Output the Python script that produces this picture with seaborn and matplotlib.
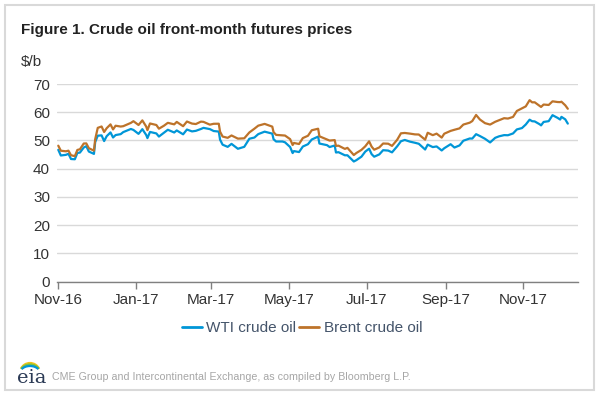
import matplotlib
matplotlib.use("Agg")
import matplotlib.pyplot as plt
import matplotlib.dates as mdates
from matplotlib.patches import Rectangle, Arc
import pandas as pd
import seaborn as sns

dates = [
    "2016-11-01", "2016-11-03", "2016-11-07", "2016-11-09", "2016-11-11", "2016-11-14",
    "2016-11-16", "2016-11-18", "2016-11-21", "2016-11-23", "2016-11-25", "2016-11-29",
    "2016-11-30", "2016-12-02", "2016-12-05", "2016-12-07", "2016-12-09", "2016-12-12",
    "2016-12-14", "2016-12-16", "2016-12-20", "2016-12-22", "2016-12-28", "2016-12-30",
    "2017-01-03", "2017-01-06", "2017-01-09", "2017-01-10", "2017-01-12", "2017-01-17",
    "2017-01-19", "2017-01-23", "2017-01-26", "2017-01-31", "2017-02-02", "2017-02-07",
    "2017-02-10", "2017-02-14", "2017-02-17", "2017-02-21", "2017-02-23", "2017-02-28",
    "2017-03-03", "2017-03-07", "2017-03-08", "2017-03-10", "2017-03-14", "2017-03-17",
    "2017-03-22", "2017-03-27", "2017-03-31", "2017-04-04", "2017-04-07", "2017-04-12",
    "2017-04-18", "2017-04-19", "2017-04-21", "2017-04-26", "2017-04-28", "2017-05-02",
    "2017-05-04", "2017-05-05", "2017-05-09", "2017-05-12", "2017-05-16", "2017-05-19",
    "2017-05-24", "2017-05-25", "2017-05-31", "2017-06-02", "2017-06-06", "2017-06-07",
    "2017-06-09", "2017-06-14", "2017-06-16", "2017-06-21", "2017-06-23", "2017-06-27",
    "2017-06-30", "2017-07-03", "2017-07-05", "2017-07-07", "2017-07-11", "2017-07-14",
    "2017-07-18", "2017-07-21", "2017-07-25", "2017-07-28", "2017-07-31", "2017-08-04",
    "2017-08-08", "2017-08-11", "2017-08-16", "2017-08-18", "2017-08-22", "2017-08-25",
    "2017-08-29", "2017-08-31", "2017-09-05", "2017-09-08", "2017-09-12", "2017-09-15",
    "2017-09-20", "2017-09-22", "2017-09-25", "2017-09-28", "2017-10-02", "2017-10-06",
    "2017-10-10", "2017-10-13", "2017-10-17", "2017-10-20", "2017-10-24", "2017-10-27",
    "2017-10-31", "2017-11-03", "2017-11-06", "2017-11-08", "2017-11-10", "2017-11-14",
    "2017-11-15", "2017-11-17", "2017-11-21", "2017-11-24", "2017-11-28", "2017-11-30",
    "2017-12-01", "2017-12-04", "2017-12-06",
]

wti = [
    46.67, 44.66, 44.89, 45.27, 43.41, 43.32,
    45.57, 45.69, 47.49, 47.96, 46.06, 45.23,
    49.44, 51.68, 51.79, 49.77, 51.50, 52.83,
    51.04, 51.90, 52.23, 52.95, 54.06, 53.72,
    52.33, 53.99, 51.96, 50.82, 53.01, 52.48,
    51.37, 52.75, 53.78, 52.81, 53.54, 52.17,
    53.86, 53.20, 53.40, 54.06, 54.45, 54.01,
    53.33, 53.14, 50.28, 48.49, 47.72, 48.78,
    47.04, 47.73, 50.60, 51.03, 52.24, 53.11,
    52.41, 50.44, 49.62, 49.62, 49.33, 47.66,
    45.52, 46.22, 45.88, 47.84, 48.66, 50.33,
    51.36, 48.90, 48.32, 47.66, 48.19, 45.72,
    45.83, 44.73, 44.74, 42.53, 43.01, 44.24,
    46.04, 47.07, 45.13, 44.23, 45.04, 46.54,
    46.40, 45.77, 47.89, 49.71, 50.17, 49.58,
    49.17, 48.82, 46.78, 48.51, 47.64, 47.87,
    46.44, 47.23, 48.66, 47.48, 48.23, 49.89,
    50.69, 50.66, 52.22, 51.56, 50.58, 49.29,
    50.92, 51.45, 51.88, 51.84, 52.47, 53.90,
    54.38, 55.64, 57.35, 56.81, 56.74, 55.70,
    55.33, 56.55, 56.83, 58.95, 57.99, 57.40,
    58.36, 57.47, 55.96,
]

brent = [
    48.14, 46.35, 46.15, 46.36, 44.75, 44.43,
    46.63, 46.86, 48.90, 48.95, 47.24, 46.38,
    50.47, 54.46, 54.94, 53.00, 54.33, 55.69,
    53.90, 55.21, 54.92, 55.05, 56.22, 56.82,
    55.47, 57.10, 54.94, 53.64, 56.01, 55.47,
    54.16, 55.23, 56.24, 55.70, 56.56, 55.05,
    56.70, 55.97, 55.81, 56.66, 56.58, 55.59,
    55.90, 55.92, 53.11, 51.37, 50.92, 51.76,
    50.64, 50.75, 52.83, 54.17, 55.24, 55.86,
    54.89, 52.93, 51.96, 51.82, 51.73, 50.46,
    48.38, 49.10, 48.73, 50.84, 51.65, 53.61,
    54.15, 51.46, 50.31, 49.95, 50.12, 48.06,
    48.15, 47.00, 47.37, 44.82, 45.54, 46.65,
    47.92, 49.68, 47.79, 46.71, 47.52, 48.91,
    48.84, 48.06, 50.20, 52.52, 52.65, 52.42,
    52.14, 52.10, 50.27, 52.72, 51.87, 52.41,
    51.00, 52.38, 53.38, 53.78, 54.27, 55.62,
    56.29, 56.86, 59.02, 57.41, 56.12, 55.62,
    56.61, 57.17, 57.88, 57.75, 58.33, 60.44,
    61.37, 62.07, 64.27, 63.49, 63.52, 62.21,
    61.87, 62.72, 62.57, 63.86, 63.61, 63.57,
    63.73, 62.45, 61.22,
]

series_names = ["WTI crude oil", "Brent crude oil"]
series_colors = ["#0096d7", "#bd732a"]
y_ticks = [0, 10, 20, 30, 40, 50, 60, 70]
x_ticks = ["2016-11-01", "2017-01-01", "2017-03-01", "2017-05-01",
           "2017-07-01", "2017-09-01", "2017-11-01"]

df = pd.concat([
    pd.DataFrame({"date": pd.to_datetime(dates), "price": wti, "series": series_names[0]}),
    pd.DataFrame({"date": pd.to_datetime(dates), "price": brent, "series": series_names[1]}),
], ignore_index=True)

sns.set_theme(style="white")
plt.rcParams["font.family"] = ["Liberation Sans", "DejaVu Sans"]

W, H = 600, 393
fig = plt.figure(figsize=(W / 100, H / 100), dpi=100)
fig.patch.set_facecolor("white")

ax = fig.add_axes([57 / W, 1 - 281.5 / H, (578 - 57) / W, (281.5 - 84) / H])
sns.lineplot(data=df, x="date", y="price", hue="series",
             palette=dict(zip(series_names, series_colors)),
             linewidth=1.6, ax=ax, legend=False)

ax.set_xlim(pd.Timestamp("2016-10-31"), pd.Timestamp("2017-12-14"))
ax.set_ylim(0, 70)
ax.set_yticks(y_ticks)
ax.set_xticks(pd.to_datetime(x_ticks))
ax.xaxis.set_major_formatter(mdates.DateFormatter("%b-%y"))
ax.set_xlabel("")
ax.set_ylabel("")
ax.yaxis.grid(True, color="#d9d9d9", linewidth=1)
ax.xaxis.grid(False)
for s in ["top", "right", "left"]:
    ax.spines[s].set_visible(False)
ax.spines["bottom"].set_color("#808080")
ax.spines["bottom"].set_linewidth(1)
ax.tick_params(axis="x", direction="out", length=5, width=1, color="#808080",
               labelsize=11, labelcolor="#333333", pad=3, bottom=True)
ax.tick_params(axis="y", length=0, labelsize=11, labelcolor="#333333", pad=5)

handles = [plt.Line2D([], [], color=c, linewidth=2) for c in series_colors]
leg = fig.legend(handles, series_names, loc="center", bbox_to_anchor=(302 / W, 1 - 328 / H),
                 ncol=2, frameon=False, fontsize=11, handlelength=1.3, handletextpad=0.3,
                 columnspacing=0.2)
for t in leg.get_texts():
    t.set_color("#44546a")

fig.text(21 / W, 1 - 30 / H, "Figure 1. Crude oil front-month futures prices",
         fontsize=11, fontweight="bold", color="#222222", va="center", ha="left")
fig.text(21 / W, 1 - 62 / H, r"\$/b", fontsize=11, color="#333333", va="center", ha="left")
fig.text(52 / W, 1 - 377 / H,
         "CME Group and Intercontinental Exchange, as compiled by Bloomberg L.P.",
         fontsize=7.7, color="#a6a6a6", va="center", ha="left")

# eia logo
lax = fig.add_axes([10 / W, 1 - 392 / H, 36 / W, 34 / H])
lax.set_xlim(0, 36)
lax.set_ylim(0, 34)
lax.axis("off")
lax.text(7.5, 9, "eia", fontsize=14, family="DejaVu Serif", color="#2b3a55",
         va="baseline", ha="left")
for (h, col) in [(20, "#f2c319"), (17, "#7cc242"), (14, "#0096d7")]:
    lax.add_patch(Arc((20, 19), 20, h, theta1=25, theta2=155,
                      color=col, linewidth=1.6))

fig.patches.append(Rectangle((5 / W, 1 - 390 / H), (594 - 5) / W, (390 - 5) / H,
                             fill=False, edgecolor="#d9d9d9", linewidth=1.5,
                             transform=fig.transFigure, figure=fig))

fig.savefig("out.png", dpi=100)
